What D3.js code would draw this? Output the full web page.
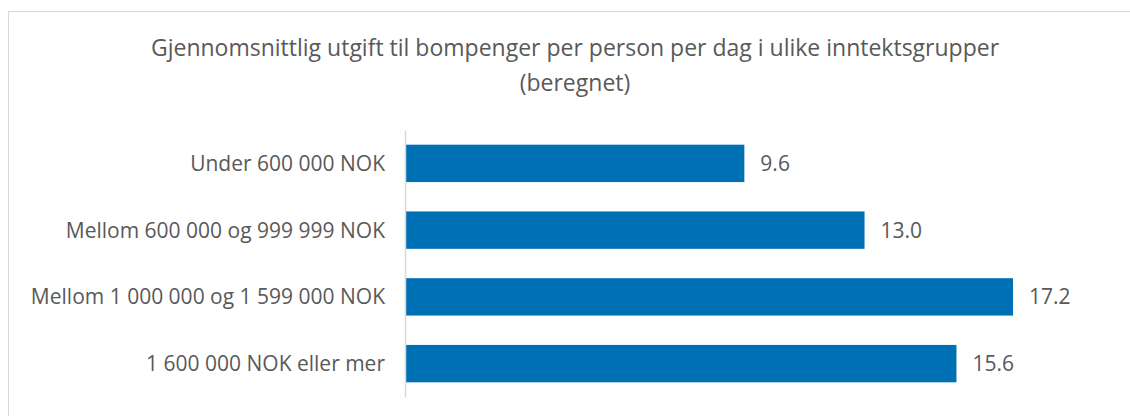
<!DOCTYPE html>
<html>
<head>
<meta charset="utf-8">
<script src="https://cdn.jsdelivr.net/npm/d3@7"></script>
<style>
  body { margin: 0; background: #fff; }
  text { font-family: "Open Sans", "Noto Sans", sans-serif; fill: #595959; }
</style>
</head>
<body>
<div id="chart"></div>
<script>
var categories = [
  "Under 600 000 NOK",
  "Mellom 600 000 og 999 999 NOK",
  "Mellom 1 000 000 og 1 599 000 NOK",
  "1 600 000 NOK eller mer"
];
var values = [9.6, 13.0, 17.2, 15.6];
var titleLines = [
  "Gjennomsnittlig utgift til bompenger per person per dag i ulike inntektsgrupper",
  "(beregnet)"
];

var width = 1130, height = 416;

var svg = d3.select('#chart')
    .append('svg')
    .attr('width', width)
    .attr('height', height);

// outer frame
svg.append('rect')
    .attr('x', 8.5).attr('y', 11.5)
    .attr('width', 1140).attr('height', 420)
    .attr('fill', 'none')
    .attr('stroke', '#d9d9d9');

svg.selectAll('.title')
    .data(titleLines)
    .enter().append('text')
    .attr('class', 'title')
    .attr('x', 575)
    .attr('y', function(d, i) { return 56 + i * 35; })
    .attr('text-anchor', 'middle')
    .style('font-size', '23px')
    .text(function(d) { return d; });

var x = d3.scaleLinear()
    .domain([0, 20])
    .range([405, 405 + 35.35 * 20]);

var y = d3.scaleBand()
    .domain(categories)
    .range([130, 397])
    .paddingInner(0.44)
    .paddingOuter(0.22);

svg.selectAll('.bar')
    .data(values)
    .enter().append('rect')
    .attr('class', 'bar')
    .attr('x', x(0))
    .attr('y', function(d, i) { return y(categories[i]); })
    .attr('width', function(d) { return x(d) - x(0); })
    .attr('height', y.bandwidth())
    .attr('fill', '#0070b5');

svg.selectAll('.val')
    .data(values)
    .enter().append('text')
    .attr('class', 'val')
    .attr('x', function(d) { return x(d) + 16; })
    .attr('y', function(d, i) { return y(categories[i]) + y.bandwidth() / 2; })
    .attr('dy', '0.36em')
    .style('font-size', '21px')
    .text(function(d) { return d.toFixed(1); });

var axis = svg.append('g')
    .attr('transform', 'translate(' + x(0) + ',0)')
    .call(d3.axisLeft(y).tickSize(0).tickPadding(20));
axis.select('.domain').attr('stroke', '#d9d9d9').attr('stroke-width', 1.5);
axis.selectAll('text')
    .style('font-size', '21px')
    .style('font-family', '"Open Sans", "Noto Sans", sans-serif')
    .attr('dy', '0.36em')
    .attr('fill', '#595959');
</script>
</body>
</html>
